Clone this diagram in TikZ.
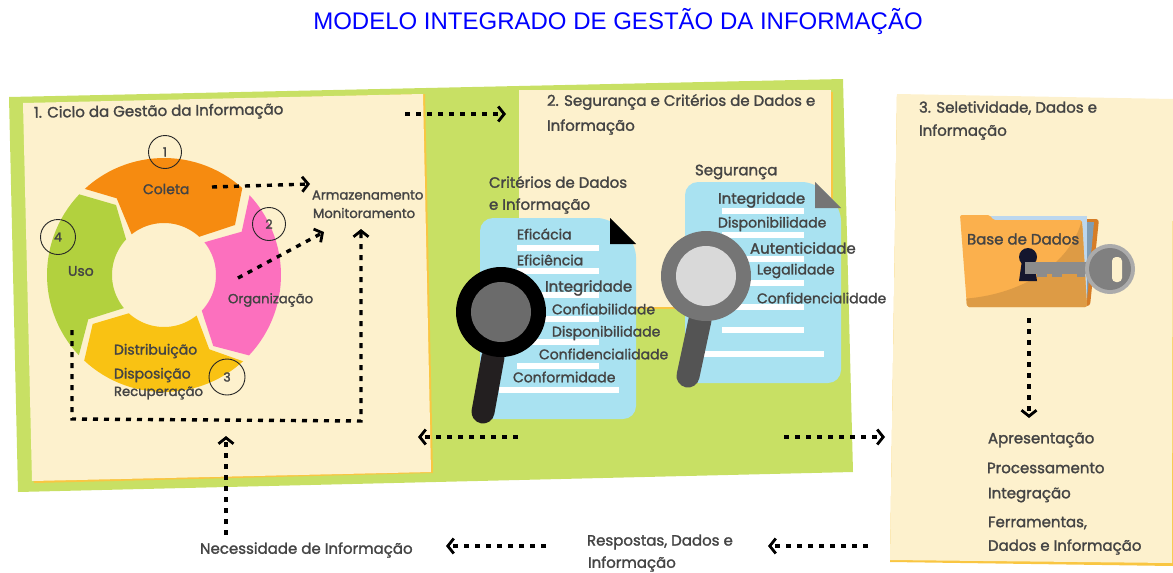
\documentclass[tikz,border=0pt]{standalone}
\usepackage{fontspec}
\setmainfont{Poppins}[FakeBold=1.6]
\newfontfamily\titlefont{Liberation Sans}
\usetikzlibrary{arrows.meta}
\definecolor{panelgreen}{HTML}{C8E064}
\definecolor{panelcream}{HTML}{FDF1CD}
\definecolor{paneledge}{HTML}{F9C642}
\definecolor{docblue}{HTML}{A9E2F1}
\definecolor{txtgray}{HTML}{444444}
\definecolor{segorange}{HTML}{F68B10}
\definecolor{segpink}{HTML}{FC70BE}
\definecolor{segyellow}{HTML}{F9C213}
\definecolor{seggreen}{HTML}{B2D13E}
\definecolor{folderfront}{HTML}{FBB04D}
\definecolor{folderdark}{HTML}{DD9B45}
\tikzset{
	lbl/.style={anchor=west,inner sep=0,outer sep=0,yshift=-1pt,text=txtgray,font=\fontsize{14}{16}\selectfont},
	lblbig/.style={lbl,font=\fontsize{15}{17}\selectfont},
	lblsmall/.style={lbl,font=\fontsize{13.2}{15}\selectfont},
	numcirc/.style={draw=black!85,line width=0.9pt,circle,inner sep=0,minimum size=#1,text=txtgray,font=\fontsize{12.5}{14}\selectfont},
	dotarrow/.style={line width=3.4pt,dash pattern=on 5pt off 6pt,-{Straight Barb[length=6pt,width=15pt,line width=2.8pt]}},
	whiteline/.style={fill=white}
}
\begin{document}
\begin{tikzpicture}[x=1pt,y=-1pt]
	\useasboundingbox (0,0) rectangle (1173,573);
	\node[inner sep=0,text=blue,font=\titlefont\fontsize{24}{28}\selectfont] (title) at (618,22) {MODELO INTEGRADO DE GESTÃO DA INFORMAÇÃO};
	% panels
	\fill[panelgreen] (9,97) -- (843,79) -- (853,472) -- (18,492) -- cycle;
	\fill[paneledge] (25,104) -- (425,94) -- (433,473) -- (34,483) -- cycle;
	\fill[panelcream] (23,103) -- (423,94) -- (431,472) -- (32,481) -- cycle;
	\fill[paneledge] (519,92) rectangle (833,309);
	\fill[panelcream] (519,90) rectangle (831,307);
	\fill[paneledge] (897,96) -- (1173,101) -- (1173,566) -- (890,562) -- cycle;
	\fill[panelcream] (897,94) -- (1173,99) -- (1172,563) -- (890,560) -- cycle;
	% ring
	\begin{scope}[shift={(164,275)}]
		\fill[segorange] plot[domain=-132.6:-48,samples=30] (\x:117) -- (71,-50) -- plot[domain=-47.3:-128.5,samples=30] (\x:52) -- (-47.3,-76.7) -- cycle;
		\fill[segpink] plot[domain=-43:43.4,samples=30] (\x:117) -- (49.3,71) -- plot[domain=43.4:-39,samples=30] (\x:52) -- (77.7,-43.3) -- cycle;
		\fill[segyellow] plot[domain=47.5:133,samples=30] (\x:117) -- (-71.3,49) -- plot[domain=132.6:51.2,samples=30] (\x:52) -- (45.3,74.3) -- cycle;
		\fill[seggreen] plot[domain=136.7:223.6,samples=30] (\x:117) -- (-48,-70) -- plot[domain=223.2:140.5,samples=30] (\x:52) -- (-75.7,44.3) -- cycle;
	\end{scope}
	\node[numcirc=33pt] (1) at (165,152) {1};
	\node[numcirc=33pt] (2) at (269,224) {2};
	\node[numcirc=36pt] (3) at (227,377) {3};
	\node[numcirc=35pt] (4) at (58,237) {4};
	% document 1
	\fill[docblue,rounded corners=13pt] (480,218) -- (610,218) -- (636,244) -- (636,419) -- (480,419) -- cycle;
	\fill[black] (610,218) -- (610,244) -- (636,244) -- cycle;
	\foreach \yy in {248,271,295,319,342,366} {
		\fill[whiteline] (517,\yy-3) rectangle (599,\yy+3);
	}
	\fill[whiteline] (499,387) rectangle (619,393);
	\draw[line width=23pt,line cap=round,color={rgb,255:red,35;green,31;blue,32}] (493,357) -- (483,412);
	\fill[black] (501,312) circle (45);
	\fill[black!58] (501,312) circle (30);
	% document 2
	\fill[docblue,rounded corners=13pt] (685,182) -- (815,182) -- (841,208) -- (841,383) -- (685,383) -- cycle;
	\fill[black!54] (815,182) -- (815,208) -- (841,208) -- cycle;
	\foreach \yy in {211,235,259,283,307,330} {
		\fill[whiteline] (722,\yy-3) rectangle (804,\yy+3);
	}
	\fill[whiteline] (704,351) rectangle (824,357);
	\draw[line width=23pt,line cap=round,black!67] (700,320) -- (688,376);
	\fill[black!54] (706,276) circle (45);
	\fill[black!15] (706,276) circle (30);
	% folder and key
	\fill[rounded corners=3pt,color={rgb,255:red,214;green,125;blue,38}] (1040,219) -- (1099,219) -- (1090,306) -- (1040,306) -- cycle;
	\fill[color={rgb,255:red,127;green,157;blue,181}] (1040,222) -- (1094,222) -- (1087,300) -- (1040,300) -- cycle;
	\fill[color={rgb,255:red,188;green,215;blue,238}] (990,216) -- (1087,216) -- (1087,300) -- (990,300) -- cycle;
	\fill[folderfront,rounded corners=2pt] (960,215) -- (990,215) -- (993,220) -- (1082,220) -- (1087,307) -- (967,307) -- cycle;
	\begin{scope}
		\clip[rounded corners=2pt] (960,215) -- (990,215) -- (993,220) -- (1082,220) -- (1087,307) -- (967,307) -- cycle;
		\fill[folderdark] (960,299) .. controls (1020,296) and (1070,265) .. (1082,220) -- (1095,310) -- (960,310) -- cycle;
	\end{scope}
	\fill[color={rgb,255:red,20;green,22;blue,46}] (1028,257) circle (9);
	\fill[color={rgb,255:red,20;green,22;blue,46}] (1022,260) -- (1034,260) -- (1037,281) -- (1019,281) -- cycle;
	\fill[black!45] (1025,262) rectangle (1088,274);
	\fill[black!45] (1037,274) rectangle (1047,277);
	\fill[black!45] (1052,274) rectangle (1062,277);
	\fill[black!45] (1077,274) rectangle (1085,277);
	\fill[black!33] (1110,269) circle (25);
	\fill[black!50] (1110,269) circle (21);
	\fill[panelcream,rounded corners=4pt] (1112,257) rectangle (1122,282);
	% labels
	\node[lblbig,rotate=0.8] (tp1) at (34,113) {1. Ciclo da Gestão da Informação};
	\node[lbl] (coleta) at (143,188) {Coleta};
	\node[lbl] (uso) at (68,270) {Uso};
	\node[lblsmall] (org) at (228,299) {Organização};
	\node[lbl] (dist) at (114,350) {Distribuição};
	\node[lbl] (disp) at (114,374) {Disposição};
	\node[lblsmall] (rec) at (114,392) {Recuperação};
	\node[lblsmall] (arm) at (312,194) {Armazenamento};
	\node[lblsmall] (mon) at (313,212) {Monitoramento};
	\node[lblbig] (tp2a) at (547,101) {2. Segurança e Critérios de Dados e};
	\node[lblbig] (tp2b) at (547,126) {Informação};
	\node[lblbig] (crit1) at (489,181) {Critérios de Dados};
	\node[lblbig] (crit2) at (489,205) {e Informação};
	\node[lblbig] (seg) at (695,171) {Segurança};
	\node[lbl] (a1) at (517,233) {Eficácia};
	\node[lbl] (a2) at (517,259) {Eficiência};
	\node[lblbig] (a3) at (545,287) {Integridade};
	\node[lbl] (a4) at (552,308) {Confiabilidade};
	\node[lbl] (a5) at (552,332) {Disponibilidade};
	\node[lbl] (a6) at (539,353) {Confidencialidade};
	\node[lbl] (a7) at (513,376) {Conformidade};
	\node[lblbig] (b1) at (718,199) {Integridade};
	\node[lbl] (b2) at (718,223) {Disponibilidade};
	\node[lblbig] (b3) at (750,247) {Autenticidade};
	\node[lbl] (b4) at (757,270) {Legalidade};
	\node[lbl] (b5) at (757,297) {Confidencialidade};
	\node[lblbig] (tp3a) at (919,107) {3. Seletividade, Dados e};
	\node[lblbig] (tp3b) at (919,131) {Informação};
	\node[lblbig] (base) at (967,238) {Base de Dados};
	\node[lblbig] (c1) at (988,439) {Apresentação};
	\node[lblbig] (c2) at (987,467) {Processamento};
	\node[lblbig] (c3) at (988,494) {Integração};
	\node[lblbig] (c4) at (988,522) {Ferramentas,};
	\node[lblbig] (c5) at (988,546) {Dados e Informação};
	\node[lblbig] (nec) at (200,549) {Necessidade de Informação};
	\node[lblbig] (resp1) at (587,541) {Respostas, Dados e};
	\node[lblbig] (resp2) at (588,563) {Informação};
	% arrows
	\coordinate (p1) at (212,187);
	\coordinate (p2) at (310,184);
	\coordinate (p3) at (238,278);
	\coordinate (p4) at (324,232);
	\coordinate (p5) at (72,330);
	\coordinate (p6) at (72,419);
	\coordinate (p7) at (361,421);
	\coordinate (p8) at (361,229);
	\coordinate (p9) at (226,535);
	\coordinate (p10) at (226,436);
	\coordinate (p11) at (405,114);
	\coordinate (p12) at (506,114);
	\coordinate (p13) at (518,437);
	\coordinate (p14) at (418,437);
	\coordinate (p15) at (784,437);
	\coordinate (p16) at (885,437);
	\coordinate (p17) at (1029,318);
	\coordinate (p18) at (1029,418);
	\coordinate (p19) at (546,546);
	\coordinate (p20) at (446,546);
	\coordinate (p21) at (868,546);
	\coordinate (p22) at (768,546);
	\draw[dotarrow] (p1) -- (p2);
	\draw[dotarrow] (p3) -- (p4);
	\draw[dotarrow] (p5) -- (p6) -- (p7) -- (p8);
	\draw[dotarrow] (p9) -- (p10);
	\draw[dotarrow] (p11) -- (p12);
	\draw[dotarrow] (p13) -- (p14);
	\draw[dotarrow] (p15) -- (p16);
	\draw[dotarrow] (p17) -- (p18);
	\draw[dotarrow] (p19) -- (p20);
	\draw[dotarrow] (p21) -- (p22);
\end{tikzpicture}
\end{document}
